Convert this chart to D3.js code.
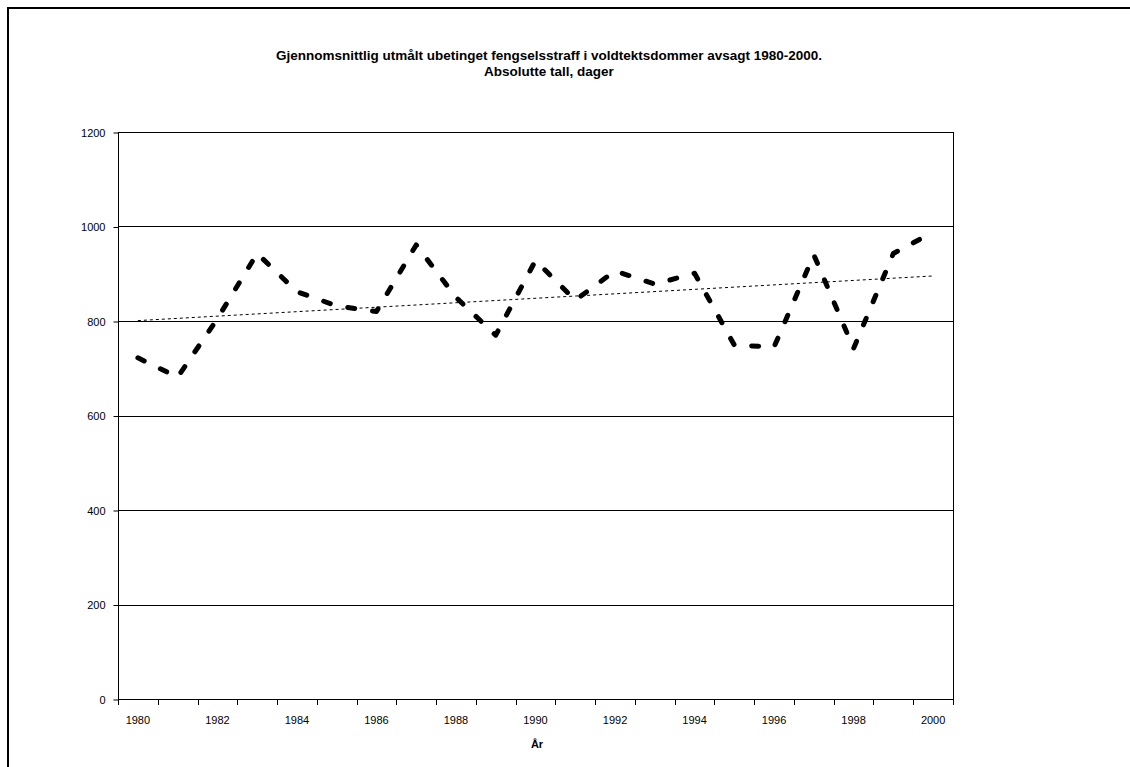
<!DOCTYPE html>
<html>
<head>
<meta charset="utf-8">
<script src="https://cdn.jsdelivr.net/npm/d3@7"></script>
<style>
  body { margin: 0; background: #fff; }
  text { font-family: "Liberation Sans", Arial, sans-serif; fill: #000; }
</style>
</head>
<body>
<svg width="1130" height="767"></svg>
<script>
var years = ["1980", "1981", "1982", "1983", "1984", "1985", "1986", "1987", "1988", "1989", "1990",
             "1991", "1992", "1993", "1994", "1995", "1996", "1997", "1998", "1999", "2000"];
var days = [722, 681, 805, 943, 862, 832, 820, 961, 850, 770, 928,
            844, 906, 878, 901, 749, 745, 940, 742, 943, 988];
var yTicks = [0, 200, 400, 600, 800, 1000, 1200];
var titleLines = ["Gjennomsnittlig utmålt ubetinget fengselsstraff i voldtektsdommer avsagt 1980-2000.",
                  "Absolutte tall, dager"];
var xTitle = "År";

var svg = d3.select("svg");

var plotLeft = 118, plotRight = 953, plotTop = 132, plotBottom = 699;

// outer chart frame (only top and left show in the window)
svg.append("path")
    .attr("d", "M8,770 V8 H1135")
    .attr("fill", "none")
    .attr("stroke", "#000")
    .attr("stroke-width", 2);

var x = d3.scaleBand()
    .domain(years)
    .range([plotLeft, plotRight])
    .padding(0);

var y = d3.scaleLinear()
    .domain([0, 1200])
    .range([plotBottom, plotTop]);

// gridlines
svg.append("g")
    .selectAll("line")
    .data(yTicks)
    .enter().append("line")
      .attr("x1", plotLeft)
      .attr("x2", plotRight)
      .attr("y1", function(d) { return Math.round(y(d)) + 0.5; })
      .attr("y2", function(d) { return Math.round(y(d)) + 0.5; })
      .attr("stroke", "#000")
      .attr("stroke-width", 1);

// plot border
svg.append("rect")
    .attr("x", plotLeft + 0.5)
    .attr("y", plotTop + 0.5)
    .attr("width", plotRight - plotLeft)
    .attr("height", plotBottom - plotTop)
    .attr("fill", "none")
    .attr("stroke", "#000");

// y axis
var yAxis = svg.append("g")
    .attr("transform", "translate(" + (plotLeft + 0.5) + ",0.5)")
    .call(d3.axisLeft(y).tickValues(yTicks).tickSize(5).tickPadding(8).tickFormat(d3.format("d")));
yAxis.select(".domain").remove();
yAxis.selectAll("text")
    .style("font-size", "11px")
    .style("font-family", "Liberation Sans, Arial, sans-serif");

// x axis: ticks between categories, labels every other year
svg.append("g")
    .selectAll("line")
    .data(d3.range(years.length + 1))
    .enter().append("line")
      .attr("x1", function(i) { return Math.round(plotLeft + i * x.step()) + 0.5; })
      .attr("x2", function(i) { return Math.round(plotLeft + i * x.step()) + 0.5; })
      .attr("y1", plotBottom)
      .attr("y2", plotBottom + 6)
      .attr("stroke", "#000");

svg.append("g")
    .selectAll("text")
    .data(years.filter(function(d, i) { return i % 2 === 0; }))
    .enter().append("text")
      .attr("x", function(d) { return x(d) + x.bandwidth() / 2; })
      .attr("y", plotBottom + 25)
      .attr("text-anchor", "middle")
      .style("font-size", "11px")
      .text(function(d) { return d; });

svg.append("text")
    .attr("x", 537)
    .attr("y", 748)
    .attr("text-anchor", "middle")
    .style("font-size", "11px")
    .style("font-weight", "bold")
    .text(xTitle);

// title
svg.append("g")
    .selectAll("text")
    .data(titleLines)
    .enter().append("text")
      .attr("x", 549)
      .attr("y", function(d, i) { return 60 + i * 16; })
      .attr("text-anchor", "middle")
      .style("font-size", "13.5px")
      .style("font-weight", "bold")
      .text(function(d) { return d; });

// linear trend (least squares on the series)
var n = days.length;
var meanI = (n - 1) / 2;
var meanV = d3.mean(days);
var sxy = 0, sxx = 0;
days.forEach(function(v, i) {
  sxy += (i - meanI) * (v - meanV);
  sxx += (i - meanI) * (i - meanI);
});
var slope = sxy / sxx;
var trend = [0, n - 1].map(function(i) { return { year: years[i], v: meanV + slope * (i - meanI) }; });

var line = d3.line()
    .x(function(d) { return x(d.year) + x.bandwidth() / 2; })
    .y(function(d) { return y(d.v); });

svg.append("path")
    .datum(trend)
    .attr("d", line)
    .attr("fill", "none")
    .attr("stroke", "#000")
    .attr("stroke-width", 1)
    .attr("stroke-dasharray", "3,3");

svg.append("path")
    .datum(years.map(function(d, i) { return { year: d, v: days[i] }; }))
    .attr("d", line)
    .attr("fill", "none")
    .attr("stroke", "#000")
    .attr("stroke-width", 5)
    .attr("stroke-linecap", "round")
    .attr("stroke-linejoin", "round")
    .attr("stroke-dasharray", "7,18");
</script>
</body>
</html>
